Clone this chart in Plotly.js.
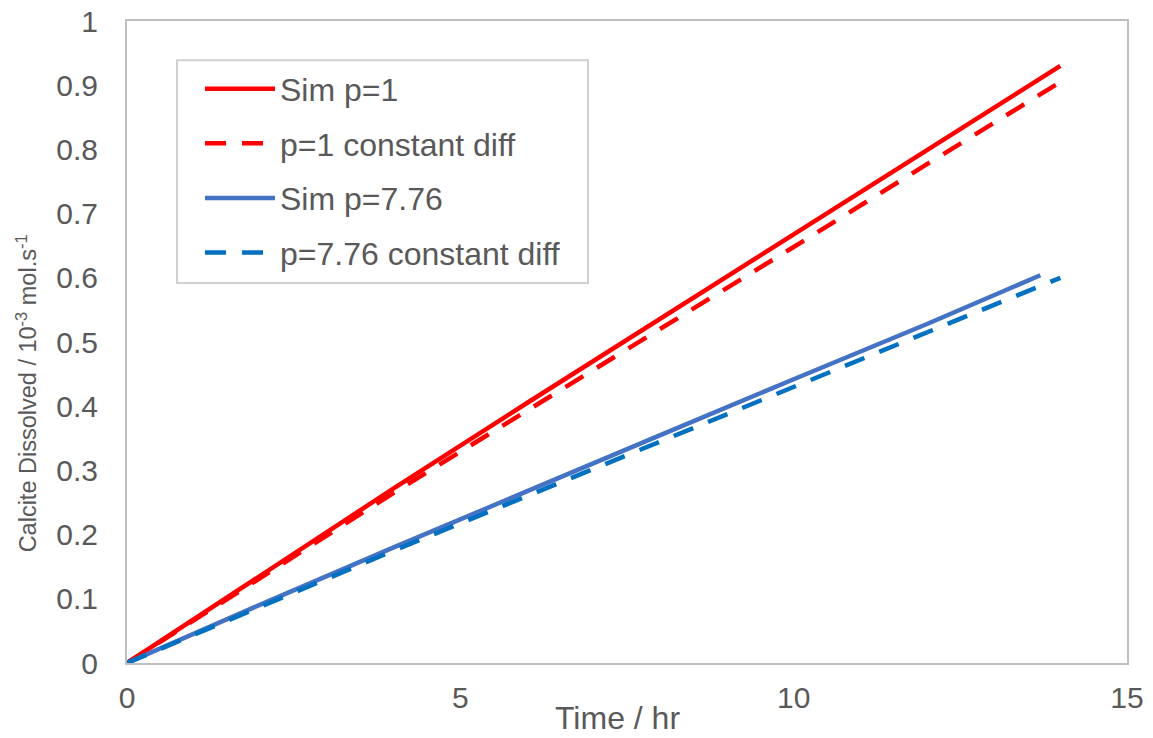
<!DOCTYPE html>
<html>
<head>
<meta charset="utf-8">
<script src="https://cdn.plot.ly/plotly-3.0.1.min.js"></script>
<style>html,body{margin:0;padding:0;background:#fff;}#chart{width:1153px;height:738px;}</style>
</head>
<body>
<div id="chart"></div>
<script>
// Time (hr)
const timeP1 = [0, 2, 4, 6, 8, 10, 12, 14];
const simP1 = [0, 0.137, 0.272, 0.405, 0.537, 0.668, 0.799, 0.930];
const constP1 = [0, 0.133, 0.265, 0.393, 0.520, 0.648, 0.777, 0.905];
const timeSim776 = [0, 2, 4, 6, 8, 10, 12, 13.7];
const simP776 = [0, 0.091, 0.180, 0.268, 0.355, 0.442, 0.528, 0.604];
const timeConst776 = [0, 2, 4, 6, 8, 10, 12, 14];
const constP776 = [0, 0.088, 0.175, 0.260, 0.345, 0.429, 0.514, 0.600];

const seriesNames = ["Sim p=1", "p=1 constant diff", "Sim p=7.76", "p=7.76 constant diff"];
const xTitle = "Time / hr";
const yTitle = "Calcite Dissolved / 10<sup>-3</sup> mol.s<sup>-1</sup>";

const FONT = "Liberation Sans, Arial, sans-serif";
const GREY = "#595959";

const traces = [
  {x: timeP1, y: simP1, name: seriesNames[0], mode: "lines", legendgroup: "a",
   line: {color: "#ff0000", width: 4.5}},
  {x: timeP1, y: constP1, name: seriesNames[1], mode: "lines", legendgroup: "b",
   line: {color: "#ff0000", width: 4.5, dash: "21px,16px"}},
  {x: timeSim776, y: simP776, name: seriesNames[2], mode: "lines", legendgroup: "c",
   line: {color: "#4472c4", width: 4.5}},
  {x: timeConst776, y: constP776, name: seriesNames[3], mode: "lines", legendgroup: "d",
   line: {color: "#0070c0", width: 4.5, dash: "21px,16px"}}
];

const axisCommon = {
  showgrid: false, zeroline: false, showline: true, mirror: true,
  linecolor: "#bfbfbf", linewidth: 2, ticks: "",
  tickfont: {family: FONT, size: 30, color: GREY}
};

const layout = {
  width: 1153, height: 738,
  margin: {l: 127, r: 26, t: 21, b: 75},
  paper_bgcolor: "#ffffff", plot_bgcolor: "#ffffff",
  font: {family: FONT, color: GREY},
  showlegend: true,
  legend: {
    x: 0.073, y: 0.937, xanchor: "left", yanchor: "top",
    bgcolor: "rgba(0,0,0,0)", borderwidth: 0,
    font: {family: FONT, size: 32, color: GREY},
    traceorder: "grouped", tracegroupgap: 10, itemwidth: 70
  },
  shapes: [
    {type: "rect", xref: "paper", yref: "paper", x0: 0.05, x1: 0.461, y0: 0.592, y1: 0.939,
     line: {color: "#d0d0d0", width: 2}, fillcolor: "#ffffff", layer: "below"}
  ],
  xaxis: Object.assign({}, axisCommon, {range: [0, 15], tick0: 0, dtick: 5, ticklabelstandoff: 7}),
  yaxis: Object.assign({}, axisCommon, {range: [0, 1], tick0: 0, dtick: 0.1, ticklabelstandoff: 21}),
  annotations: [
    {text: xTitle, xref: "paper", yref: "paper", x: 0.49, y: -0.0857, xanchor: "center", yanchor: "middle",
     showarrow: false, font: {family: FONT, size: 32, color: GREY}},
    {text: yTitle, xref: "paper", yref: "paper", x: -0.1, y: 0.42, xanchor: "center", yanchor: "middle",
     textangle: -90, showarrow: false, font: {family: FONT, size: 23.5, color: GREY}}
  ]
};

Plotly.newPlot("chart", traces, layout, {displayModeBar: false, staticPlot: true});
</script>
</body>
</html>
